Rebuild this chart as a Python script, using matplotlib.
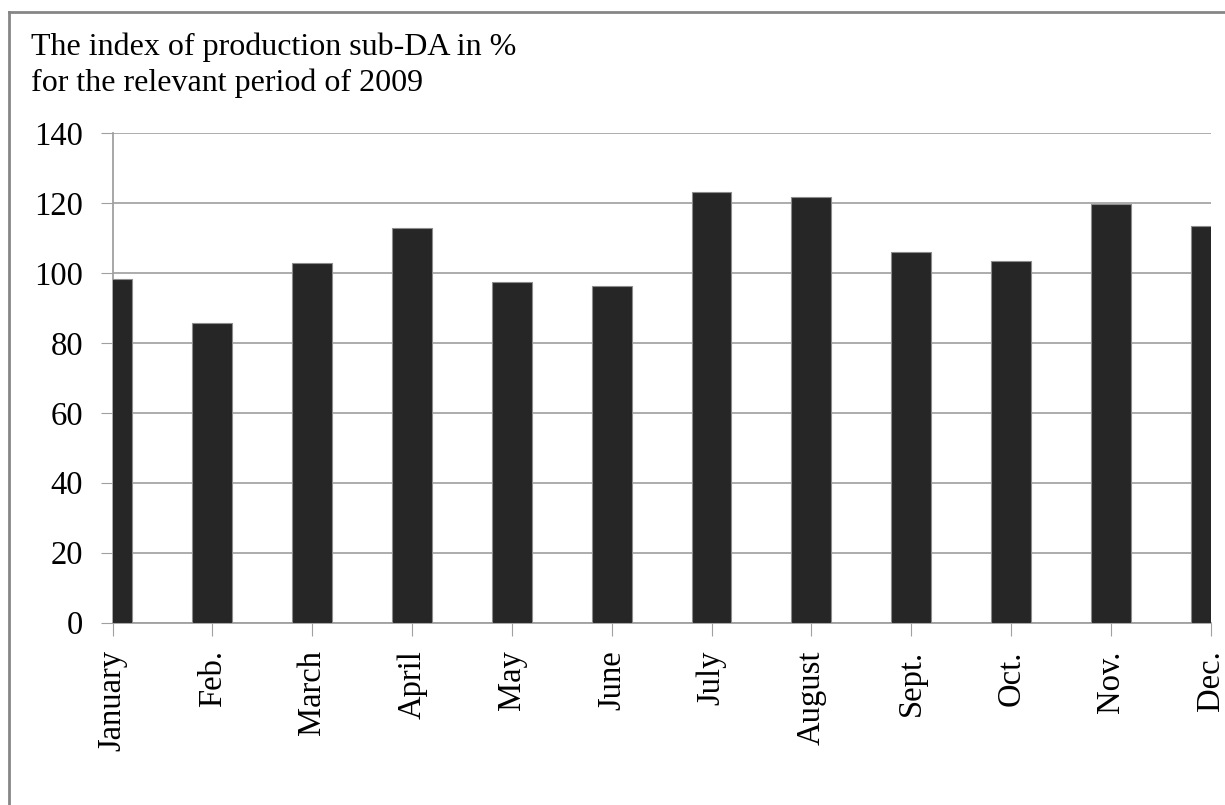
import matplotlib
matplotlib.use("Agg")
import matplotlib.pyplot as plt
from matplotlib.lines import Line2D
import numpy as np

months = ["January", "Feb.", "March", "April", "May", "June",
          "July", "August", "Sept.", "Oct.", "Nov.", "Dec."]
index_pct = [98.3, 85.8, 102.9, 112.8, 97.5, 96.3,
             123.2, 121.7, 105.9, 103.4, 119.8, 113.6]
y_ticks = [0, 20, 40, 60, 80, 100, 120, 140]
title = "The index of production sub-DA in %\nfor the relevant period of 2009"

plt.rcParams["font.family"] = ["Liberation Serif", "DejaVu Serif"]

fig = plt.figure(figsize=(12.25, 8.05), dpi=100)
ax = fig.add_axes([112.5 / 1225, 1 - 622.5 / 805, (1210.7 - 112.5) / 1225, (622.5 - 133.3) / 805])

x = np.arange(len(months))
ax.bar(x, index_pct, width=0.4, color="#262626", edgecolor="#8c8c8c", linewidth=0.8, zorder=3)

ax.set_xlim(0, len(months) - 1)
ax.set_ylim(0, 140)
ax.set_yticks(y_ticks)
ax.set_xticks(x)
ax.set_xticklabels(months, rotation=90, fontsize=23.5)
ax.tick_params(axis="y", labelsize=23.5, length=9, color="#a0a0a0", pad=12)
ax.tick_params(axis="x", length=9, color="#a0a0a0", pad=11)
ax.yaxis.grid(True, color="#a6a6a6", linewidth=1.3, zorder=0)
ax.set_axisbelow(True)
for s in ["top", "right"]:
    ax.spines[s].set_visible(False)
for s in ["left", "bottom"]:
    ax.spines[s].set_color("#a0a0a0")
    ax.spines[s].set_linewidth(1.3)

fig.text(31 / 1225, 1 - 32 / 805, title, fontsize=23, va="top", ha="left", linespacing=1.33)

# outer chart frame (only top and left edge are inside the picture)
fig.add_artist(Line2D([8.5 / 1225, 8.5 / 1225], [0, 1 - 12 / 805], transform=fig.transFigure, color="#868686", linewidth=2))
fig.add_artist(Line2D([8.5 / 1225, 1], [1 - 12 / 805, 1 - 12 / 805], transform=fig.transFigure, color="#868686", linewidth=2))

fig.savefig("out.png", dpi=100)
